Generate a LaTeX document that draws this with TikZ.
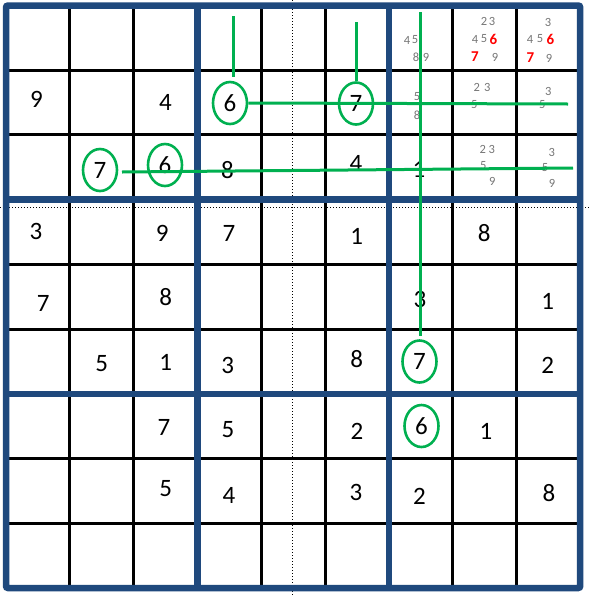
\documentclass[tikz,border=0pt]{standalone}
\usepackage{fontspec}
\setmainfont{Carlito}
\usetikzlibrary{shapes.geometric}
\definecolor{gridblue}{RGB}{31,73,125}
\definecolor{mkgreen}{RGB}{0,176,80}
\definecolor{pencil}{RGB}{118,118,118}
\definecolor{mkred}{RGB}{255,0,0}
\begin{document}
\begin{tikzpicture}[x=1pt,y=-1pt,
  given/.style={inner sep=0pt, font=\fontsize{25}{25}\selectfont},
  cand/.style={inner sep=0pt, text=pencil, font=\fontsize{12.5}{12.5}\selectfont},
  candred/.style={inner sep=0pt, text=mkred, font=\fontsize{15}{15}\selectfont\bfseries},
  ring/.style={ellipse, draw=mkgreen, line width=2.6pt, minimum width=34pt, minimum height=42pt, inner sep=0pt, font=\fontsize{25}{25}\selectfont},
  greenline/.style={draw=mkgreen, line width=3pt},
  thinline/.style={line width=3pt, draw=black},
  thickline/.style={line width=6.5pt, draw=gridblue},
  dotline/.style={line width=1pt, dash pattern=on 1pt off 2pt, draw=black}
]
\useasboundingbox (0,0) rectangle (589,595);
\fill[white] (0,0) rectangle (589,595);
% dotted guide lines
\coordinate (dv1) at (292,0);
\coordinate (dv2) at (292,595);
\coordinate (dh1) at (0,207.5);
\coordinate (dh2) at (589,207.5);
\draw[dotline] (dv1) -- (dv2);
\draw[dotline] (dh1) -- (dh2);
% thin grid lines
\foreach \i in {1,2,4,5,7,8}{
  \pgfmathsetmacro{\xx}{6+63.8*\i}
  \pgfmathsetmacro{\yy}{5.5+64.72*\i}
  \draw[thinline] (\xx,5.5) -- (\xx,588);
  \draw[thinline] (6,\yy) -- (580,\yy);
}
% thick box lines
\foreach \i in {3,6}{
  \pgfmathsetmacro{\xx}{6+63.8*\i}
  \pgfmathsetmacro{\yy}{5.5+64.72*\i}
  \draw[thickline] (\xx,5.5) -- (\xx,588);
  \draw[thickline] (6,\yy) -- (580,\yy);
}
\draw[thickline, rounded corners=2pt] (6,5.5) rectangle (580.2,588);
% given digits
\node[given] (r2c1) at (36.5,99.5) {9};
\node[given] (r2c3) at (165.5,102.5) {4};
\node[given] (r3c4) at (227.5,170.5) {8};
\node[given] (r3c6) at (356,163) {4};
\node[given] (r3c7) at (419,169) {1};
\node[given] (r4c1) at (36,231) {3};
\node[given] (r4c3) at (162.3,233.3) {9};
\node[given] (r4c4) at (229,233.3) {7};
\node[given] (r4c6) at (356.7,236) {1};
\node[given] (r4c8) at (484.3,233.3) {8};
\node[given] (r5c1) at (43.3,303.3) {7};
\node[given] (r5c3) at (165.7,296.7) {8};
\node[given] (r5c7) at (420,299.3) {3};
\node[given] (r5c9) at (547.7,301.7) {1};
\node[given] (r6c2) at (101.7,364) {5};
\node[given] (r6c3) at (165.7,362.3) {1};
\node[given] (r6c4) at (227.7,365) {3};
\node[given] (r6c6) at (356.7,359.3) {8};
\node[given] (r6c9) at (547.7,365) {2};
\node[given] (r7c3) at (164,427.7) {7};
\node[given] (r7c4) at (228,430) {5};
\node[given] (r7c6) at (357,431.7) {2};
\node[given] (r7c8) at (486,431.7) {1};
\node[given] (r8c3) at (165.8,489) {5};
\node[given] (r8c4) at (229,495) {4};
\node[given] (r8c6) at (356,492.7) {3};
\node[given] (r8c7) at (419.4,496) {2};
\node[given] (r8c9) at (549,492.7) {8};
% circled digits
\node[ring] (e6a) at (230,103) {6};
\node[ring] (e7a) at (356,103.5) {7};
\node[ring] (e7b) at (100,170) {7};
\node[ring] (e6b) at (165,165) {6};
\node[ring] (e7c) at (419.5,361.5) {7};
\node[ring] (e6c) at (421.5,426) {6};
% pencil marks
\node[cand] (p17a) at (407,40) {4};
\node[cand] (p17b) at (415,40) {5};
\node[cand] (p17c) at (416,57) {8};
\node[cand] (p17d) at (426,57) {9};
\node[cand] (p18a) at (484,21) {2};
\node[cand] (p18b) at (492,21) {3};
\node[cand] (p18c) at (475,39) {4};
\node[cand] (p18d) at (484,39) {5};
\node[candred] (p18e) at (493.5,39) {6};
\node[candred] (p18f) at (475,57) {7};
\node[cand] (p18g) at (495,57) {9};
\node[cand] (p19a) at (548,22) {3};
\node[cand] (p19b) at (530,39) {4};
\node[cand] (p19c) at (540,39) {5};
\node[candred] (p19d) at (550.5,39) {6};
\node[candred] (p19e) at (530.5,58) {7};
\node[cand] (p19f) at (549,58) {9};
\node[cand] (p27a) at (417,97) {5};
\node[cand] (p27b) at (417,115) {8};
\node[cand] (p28a) at (476.7,87.7) {2};
\node[cand] (p28b) at (487.3,87.7) {3};
\node[cand] (p28c) at (474.3,105) {5};
\node[cand] (p29a) at (548.3,91) {3};
\node[cand] (p29b) at (542.3,105) {5};
\node[cand] (p38a) at (482.7,149) {2};
\node[cand] (p38b) at (491.7,149) {3};
\node[cand] (p38c) at (483.3,166) {5};
\node[cand] (p38d) at (492.3,181) {9};
\node[cand] (p39a) at (551.7,152) {3};
\node[cand] (p39b) at (545,168) {5};
\node[cand] (p39c) at (552,183.5) {9};
% green elimination lines
\coordinate (g1s) at (233,16);
\coordinate (g1e) at (233,77);
\draw[greenline] (g1s) -- (g1e);
\coordinate (h2e) at (568,104);
\draw[greenline] (e6a.east) -- (h2e);
\coordinate (g3s) at (356,22);
\draw[greenline] (g3s) -- (e7a.north);
\coordinate (h3s) at (122,172);
\coordinate (h3e) at (573,168);
\draw[greenline] (h3s) -- (h3e);
\coordinate (g5s) at (420.5,12);
\coordinate (g5e) at (420.5,336);
\draw[greenline] (g5s) -- (g5e);
\end{tikzpicture}
\end{document}
